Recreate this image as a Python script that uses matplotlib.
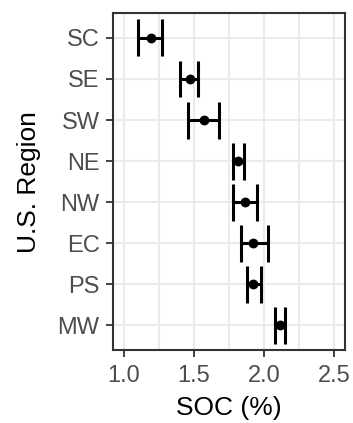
import matplotlib.pyplot as plt
from matplotlib.ticker import MultipleLocator

# mean SOC and interval bounds by region (top to bottom)
regions = ['SC', 'SE', 'SW', 'NE', 'NW', 'EC', 'PS', 'MW']
soc_mean = [1.19, 1.47, 1.57, 1.81, 1.86, 1.92, 1.92, 2.11]
soc_low = [1.10, 1.40, 1.455, 1.775, 1.775, 1.835, 1.88, 2.08]
soc_high = [1.27, 1.53, 1.675, 1.855, 1.95, 2.025, 1.975, 2.15]

plt.rcParams['font.family'] = ['Liberation Sans', 'DejaVu Sans']

fig = plt.figure(figsize=(3.53, 4.23), dpi=100)
ax = fig.add_axes([0.321, 0.1726, 0.656, 0.7960])

ypos = list(range(len(regions)))[::-1]

# errorbars drawn as lines with vertical caps spanning 0.9 of a category
for y, lo, hi in zip(ypos, soc_low, soc_high):
    ax.plot([lo, hi], [y, y], color='black', lw=2.2, solid_capstyle='butt', zorder=3)
    ax.plot([lo, lo], [y - 0.45, y + 0.45], color='black', lw=2.2, solid_capstyle='butt', zorder=3)
    ax.plot([hi, hi], [y - 0.45, y + 0.45], color='black', lw=2.2, solid_capstyle='butt', zorder=3)
ax.scatter(soc_mean, ypos, s=50, color='black', zorder=4, linewidths=0)

ax.set_xlim(1.0 - 0.075, 2.5 + 0.075)
ax.set_ylim(-0.6, len(regions) - 1 + 0.6)
ax.set_yticks(ypos)
ax.set_yticklabels(regions)
ax.xaxis.set_major_locator(MultipleLocator(0.5))
ax.xaxis.set_minor_locator(MultipleLocator(0.25))
ax.xaxis.set_major_formatter(plt.FuncFormatter(lambda v, p: f'{v:.1f}'))

ax.grid(True, which='major', color='#EBEBEB', lw=1.5)
ax.grid(True, which='minor', axis='x', color='#EBEBEB', lw=1.5)
ax.set_axisbelow(True)
ax.tick_params(which='minor', length=0)
ax.tick_params(which='major', length=5, width=1.3, color='#333333',
               labelsize=17, labelcolor='#4D4D4D')
ax.tick_params(axis='x', pad=6)
ax.tick_params(axis='y', pad=5)
for s in ax.spines.values():
    s.set_color('#333333')
    s.set_linewidth(1.5)

ax.set_xlabel('SOC (%)', fontsize=19, color='black', labelpad=6)
ax.set_ylabel('U.S. Region', fontsize=19, color='black', labelpad=12)

fig.savefig('out.png', dpi=100)
